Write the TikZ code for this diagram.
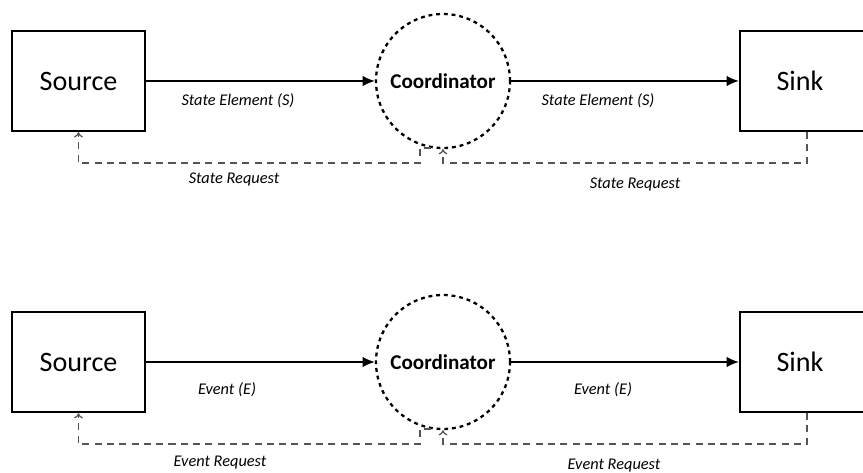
\documentclass[tikz,border=0pt]{standalone}
\usepackage{fontspec}
\setmainfont{Carlito}
\usetikzlibrary{arrows.meta}
\usetikzlibrary{positioning}
\definecolor{ReqGray}{HTML}{555555}
\tikzset{
  blockbox/.style={draw,line width=1.3pt,minimum width=2.66cm,minimum height=2cm,
    font=\fontsize{16}{18}\selectfont},
  coordcircle/.style={draw,circle,line width=1.3pt,dash pattern=on 2.2pt off 2.2pt,
    minimum size=2.68cm,inner sep=0pt,font=\fontsize{12}{14}\selectfont\bfseries},
  flowline/.style={line width=0.9pt,-{Latex[length=7pt,width=6pt]}},
  reqline/.style={ReqGray,line width=0.7pt,dash pattern=on 4pt off 3pt,
    -{To[length=3pt,width=5pt]}},
  flowlabel/.style={font=\fontsize{9.3}{11}\selectfont\itshape,inner sep=1pt}
}
\begin{document}
\begin{tikzpicture}[x=0.02cm,y=-0.02cm]
  \useasboundingbox (0,0) rectangle (863,473);
  \clip (0,0) rectangle (863,473);

  \foreach \n/\cy/\flow/\req/\fa/\fb/\fy/\ra/\rb/\rya/\ryb in {%
    a/81/State Element (S)/State Request/238/598/101/234/635/180/185,%
    b/362/Event (E)/Event Request/227/603/390/220/614/463/466}{%
    % blocks
    \node[blockbox] (src\n) at (78.5,\cy) {Source};
    \node[coordcircle] (coord\n) at (443,\cy) {Coordinator};
    \node[blockbox,minimum width=3cm,
      label={[font=\fontsize{16}{18}\selectfont,xshift=-0.3cm]center:Sink}]
      (sink\n) at (815,\cy) {};

    % forward flow
    \draw[flowline] (src\n) -- (coord\n);
    \draw[flowline] (coord\n) -- (sink\n);
    \node[flowlabel] (fla\n) at (\fa,\fy) {\flow};
    \node[flowlabel] (flb\n) at (\fb,\fy) {\flow};

    % requests back
    \coordinate (bend\n) at (420,\cy+82);
    \coordinate (low\n) at (443,\cy+82);
    \draw[reqline] (coord\n.260) -| (bend\n) -| (src\n.south);
    \draw[reqline] ([xshift=-0.16cm]sink\n.south) |- (low\n) -- (coord\n.south);
    \node[flowlabel] (rqa\n) at (\ra,\rya) {\req};
    \node[flowlabel] (rqb\n) at (\rb,\ryb) {\req};
  }
\end{tikzpicture}
\end{document}
